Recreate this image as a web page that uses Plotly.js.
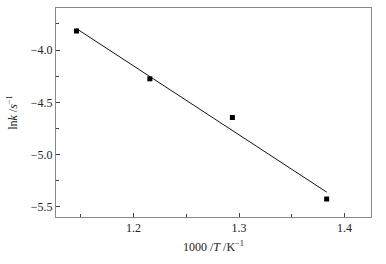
<!DOCTYPE html>
<html><head><meta charset="utf-8">
<script src="https://cdn.plot.ly/plotly-3.0.1.min.js"></script>
<style>html,body{margin:0;padding:0;background:#fff;}#c{width:386px;height:264px;}</style>
</head><body><div id="c"></div>
<script>
var xVals = [1.146, 1.2155, 1.2937, 1.383];
var yVals = [-3.818, -4.275, -4.645, -5.424];
var fitX = [1.146, 1.383];
var fitY = [-3.795, -5.358];
var xTicks = [1.2, 1.3, 1.4];
var yTicks = [-4.0, -4.5, -5.0, -5.5];
var font = {family: 'Liberation Serif, Times New Roman, serif', size: 12, color: '#222'};
var traces = [
  {x: fitX, y: fitY, mode: 'lines', line: {color: '#111', width: 1}, hoverinfo: 'skip'},
  {x: xVals, y: yVals, mode: 'markers', marker: {symbol: 'square', size: 5, color: '#000'}}
];
var layout = {
  width: 386, height: 264,
  margin: {l: 56, r: 15, t: 8, b: 47},
  showlegend: false,
  paper_bgcolor: '#fff', plot_bgcolor: '#fff',
  font: font,
  xaxis: {
    range: [1.1266, 1.425], tickvals: xTicks, ticktext: xTicks.map(function(v){return v.toFixed(1);}),
    ticks: 'inside', ticklen: 4, tickcolor: '#444', showgrid: false, zeroline: false,
    showline: true, linecolor: '#888', linewidth: 1, mirror: true,
    minor: {tickvals: [1.15, 1.25, 1.35], ticks: 'inside', ticklen: 3, tickcolor: '#444'},
    title: {text: '1000 /<i>T</i> /K<sup>−1</sup>', font: font, standoff: 8}
  },
  yaxis: {
    range: [-5.596, -3.598], tickvals: yTicks, ticktext: yTicks.map(function(v){return '−' + Math.abs(v).toFixed(1);}),
    ticks: 'inside', ticklen: 4, tickcolor: '#444', showgrid: false, zeroline: false,
    showline: true, linecolor: '#888', linewidth: 1, mirror: true,
    minor: {tickvals: [-3.75, -4.25, -4.75, -5.25], ticks: 'inside', ticklen: 3, tickcolor: '#444'},
    title: {text: 'ln<i>k</i> /<i>s</i><sup>−1</sup>', font: font, standoff: 10}
  }
};
Plotly.newPlot('c', traces, layout, {staticPlot: true, displayModeBar: false});
</script></body></html>
